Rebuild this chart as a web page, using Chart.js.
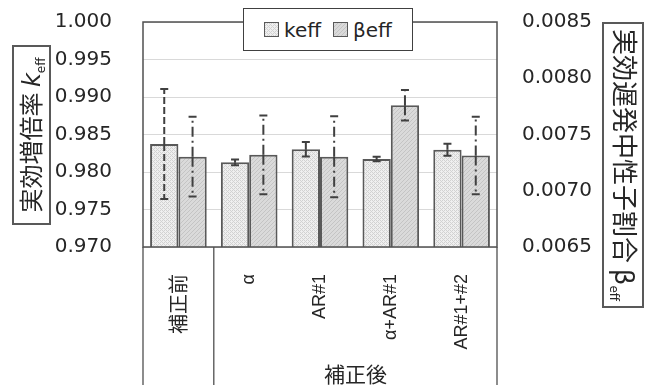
<!DOCTYPE html>
<html><head><meta charset="utf-8">
<script src="https://cdn.jsdelivr.net/npm/chart.js@4.4.1/dist/chart.umd.min.js"></script>
<style>
html,body{margin:0;padding:0;background:#fff;}
#wrap{position:relative;width:648px;height:385px;overflow:hidden;font-family:'DejaVu Sans','Noto Sans CJK JP',sans-serif;color:#262626;}
#c{position:absolute;left:0;top:0;}
.tbox{position:absolute;border:2px solid #595959;box-sizing:border-box;background:#fff;}
.tbox .in{position:absolute;left:50%;top:50%;white-space:nowrap;text-align:center;line-height:1;}
#ytl{left:12px;top:45px;width:39px;height:180px;}
#ytl .in{transform:translate(-50%,-50%) rotate(-90deg);font-family:'Noto Sans CJK JP',sans-serif;font-size:24px;}
#ytr{left:602px;top:22px;width:42px;height:286px;}
#ytr .in{transform:translate(-50%,-50%) rotate(90deg);font-family:'Noto Sans CJK JP',sans-serif;font-size:26px;}
.lat{font-family:'DejaVu Sans',sans-serif;}
sub{font-size:12px;vertical-align:-5px;font-family:'DejaVu Sans',sans-serif;}
#legend{position:absolute;left:243px;top:8px;width:170px;height:43px;border:1.5px solid #404040;background:#fff;box-sizing:border-box;display:flex;align-items:center;justify-content:center;font-size:20px;font-family:'DejaVu Sans',sans-serif;color:#262626;}
.item{display:flex;align-items:center;margin:0 6px;}
.sw{width:15px;height:15px;border:1.5px solid #595959;box-sizing:border-box;margin-right:5px;}
</style>
</head><body>
<div id="wrap">
<canvas id="c" width="648" height="385"></canvas>
<div id="legend"></div>
<div class="tbox" id="ytl"><div class="in">実効増倍率 <i class="lat">k</i><sub>eff</sub></div></div>
<div class="tbox" id="ytr"><div class="in">実効遅発中性子割合 <span class="lat">β</span><sub>eff</sub></div></div>
</div>
<script>
const categories = ['補正前', 'α', 'AR#1', 'α+AR#1', 'AR#1+#2'];
const seriesNames = ['keff', 'βeff'];
const keffValues = [0.98373, 0.98129, 0.98303, 0.98173, 0.98297];
const keffErrors = [0.00733, 0.00038, 0.00096, 0.00030, 0.00080];
const betaValues = [0.007303, 0.007320, 0.007303, 0.007760, 0.007313];
const betaErrors = [0.000354, 0.000350, 0.000360, 0.000136, 0.000345];
const keffTicks = [0.970, 0.975, 0.980, 0.985, 0.990, 0.995, 1.000];
const betaTicks = [0.0065, 0.0070, 0.0075, 0.0080, 0.0085];
const groupLabel = '補正後';
const groupFirstIndex = 1;

function makePattern(bg, fg, pts){
  const p = document.createElement('canvas'); p.width = 4; p.height = 4;
  const g = p.getContext('2d');
  g.fillStyle = bg; g.fillRect(0,0,4,4);
  g.fillStyle = fg; pts.forEach(([x,y]) => g.fillRect(x,y,1,1));
  return p;
}
const keffTile = makePattern('#efefef', '#d2d2d2', [[0,0],[2,0],[0,2],[2,2],[1,1],[3,3]]);
const betaTile = makePattern('#dadada', '#c4c4c4', [[0,3],[1,2],[2,1],[3,0]]);
const ctx = document.getElementById('c').getContext('2d');
const keffFill = ctx.createPattern(keffTile, 'repeat');
const betaFill = ctx.createPattern(betaTile, 'repeat');

const errorStyles = [
  {errors: keffErrors, dash: [7,3]},
  {errors: betaErrors, dash: [10,4,2,4]}
];

const decor = {
  id: 'decor',
  afterDatasetsDraw(chart){
    const c = chart.ctx;
    c.save();
    c.strokeStyle = '#404040'; c.lineWidth = 2;
    chart.data.datasets.forEach((ds, d) => {
      const meta = chart.getDatasetMeta(d);
      const sc = chart.scales[ds.yAxisID];
      const st = errorStyles[d];
      meta.data.forEach((el, i) => {
        const v = ds.data[i], e = st.errors[i];
        const x = el.x;
        const yc = sc.getPixelForValue(v), yt = sc.getPixelForValue(v + e), yb = sc.getPixelForValue(v - e);
        c.setLineDash(st.dash);
        c.beginPath(); c.moveTo(x, yc); c.lineTo(x, yt); c.stroke();
        c.beginPath(); c.moveTo(x, yc); c.lineTo(x, yb); c.stroke();
        c.setLineDash([]);
        c.beginPath();
        c.moveTo(x-4, yt); c.lineTo(x+4, yt);
        c.moveTo(x-4, yb); c.lineTo(x+4, yb);
        c.stroke();
      });
    });
    c.restore();
  },
  afterDraw(chart){
    const c = chart.ctx, a = chart.chartArea, xs = chart.scales.x;
    c.save();
    c.strokeStyle = '#505050'; c.lineWidth = 1.5;
    c.strokeRect(a.left, a.top, a.right - a.left, a.bottom - a.top);
    const b1 = (xs.getPixelForValue(groupFirstIndex - 1) + xs.getPixelForValue(groupFirstIndex)) / 2;
    c.lineWidth = 1.3;
    c.beginPath();
    [a.left, b1, a.right].forEach(x => { c.moveTo(x, a.bottom); c.lineTo(x, chart.height); });
    c.stroke();
    c.fillStyle = '#262626';
    c.font = "21px 'Noto Sans CJK JP'";
    c.textAlign = 'center'; c.textBaseline = 'middle';
    c.fillText(groupLabel, (b1 + a.right) / 2, 374);
    c.restore();
  }
};

const chart = new Chart(ctx, {
  type: 'bar',
  data: {
    labels: categories,
    datasets: [
      {label: seriesNames[0], data: keffValues, yAxisID: 'y', backgroundColor: keffFill, borderColor: '#595959', borderWidth: 2, borderSkipped: false, categoryPercentage: 0.8, barPercentage: 1.0},
      {label: seriesNames[1], data: betaValues, yAxisID: 'y2', backgroundColor: betaFill, borderColor: '#595959', borderWidth: 2, borderSkipped: false, categoryPercentage: 0.8, barPercentage: 1.0}
    ]
  },
  options: {
    responsive: false,
    animation: false,
    layout: {padding: {top: 22, left: 0, right: 0, bottom: 0}},
    plugins: {legend: {display: false}, tooltip: {enabled: false}},
    scales: {
      x: {
        offset: true,
        grid: {display: false},
        border: {display: false},
        ticks: {
          autoSkip: false, maxRotation: 90, minRotation: 90, padding: 19, color: '#262626',
          font: (c) => c.index === 0 ? {family: "'Noto Sans CJK JP'", size: 20} : {family: "'Liberation Sans'", size: 18}
        },
        afterFit: s => { s.height = 138; s.paddingLeft = 0; s.paddingRight = 0; }
      },
      y: {
        position: 'left', min: 0.970, max: 1.000,
        grid: {color: '#d9d9d9', lineWidth: 1, drawTicks: false},
        border: {display: false},
        ticks: {padding: 31, color: '#262626', font: {family: "'DejaVu Sans'", size: 20}, callback: v => Number(v).toFixed(3)},
        afterBuildTicks: s => { s.ticks = keffTicks.map(v => ({value: v})); },
        afterFit: s => { s.width = 143; s.paddingTop = 0; s.paddingBottom = 0; }
      },
      y2: {
        position: 'right', min: 0.0065, max: 0.0085,
        grid: {drawOnChartArea: false, drawTicks: false},
        border: {display: false},
        ticks: {padding: 25, color: '#262626', font: {family: "'DejaVu Sans'", size: 20}, callback: v => Number(v).toFixed(4)},
        afterBuildTicks: s => { s.ticks = betaTicks.map(v => ({value: v})); },
        afterFit: s => { s.width = 151; s.paddingTop = 0; s.paddingBottom = 0; }
      }
    }
  },
  plugins: [decor]
});

// HTML legend from dataset labels
const leg = document.getElementById('legend');
[keffTile, betaTile].forEach((tile, i) => {
  const it = document.createElement('div'); it.className = 'item';
  const sw = document.createElement('div'); sw.className = 'sw';
  sw.style.backgroundImage = 'url(' + tile.toDataURL() + ')';
  const tx = document.createElement('span'); tx.textContent = chart.data.datasets[i].label;
  it.appendChild(sw); it.appendChild(tx); leg.appendChild(it);
});
</script>
</body></html>
